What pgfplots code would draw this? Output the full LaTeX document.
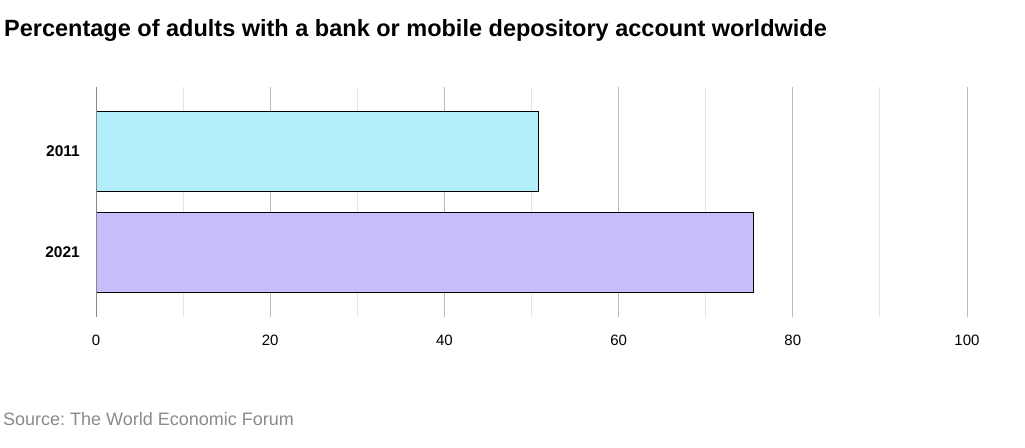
\documentclass[border=0pt]{standalone}
\usepackage{pgfplots}
\pgfplotsset{compat=1.18}
\usepackage{fontspec}
\setmainfont{Liberation Sans}
\frenchspacing

\definecolor{bara}{HTML}{B2EEF9}
\definecolor{barb}{HTML}{C7BFFB}
\definecolor{majgrid}{HTML}{BDBDBD}
\definecolor{mingrid}{HTML}{E4E4E4}
\definecolor{axisgray}{HTML}{888888}
\definecolor{srcgray}{HTML}{8A8A8A}

\begin{document}
\begin{tikzpicture}[x=1pt,y=1pt]
\path[use as bounding box] (0,0) rectangle (1025,-447);
\node[anchor=base west, inner sep=0pt, font=\fontsize{23.5}{27}\selectfont\bfseries]
  at (4,-36) {Percentage of adults with a bank or mobile depository account worldwide};
\begin{axis}[
  at={(96pt,-317pt)}, anchor=south west,
  scale only axis, width=871pt, height=230pt,
  xbar, bar width=80pt, bar shift=0pt,
  xmin=0, xmax=100, ymin=-0.635, ymax=1.64, y dir=reverse,
  ytick={0,1}, yticklabels={2011,2021},
  xtick={0,20,...,100}, minor xtick={10,30,...,90},
  xmajorgrids, xminorgrids,
  major grid style={majgrid, line width=1pt},
  minor grid style={mingrid, line width=1pt},
  axis line style={draw=none},
  major tick length=0pt, minor tick length=0pt,
  /pgf/number format/assume math mode=true,
  xticklabel style={font=\fontsize{15}{18}\selectfont, inner sep=0pt, yshift=-18pt},
  yticklabel style={font=\fontsize{15.5}{18}\selectfont\bfseries, inner sep=0pt, xshift=-16pt},
]
\addplot[fill=bara, draw=black, line width=0.9pt] coordinates {(50.8,0)};
\addplot[fill=barb, draw=black, line width=0.9pt] coordinates {(75.5,1)};
\draw[axisgray, line width=1.6pt] (axis cs:0,-0.635) -- (axis cs:0,1.64);
\end{axis}
\node[anchor=base west, inner sep=0pt, text=srcgray, font=\fontsize{18}{21}\selectfont]
  at (3,-425) {Source: The World Economic Forum};
\end{tikzpicture}
\end{document}
